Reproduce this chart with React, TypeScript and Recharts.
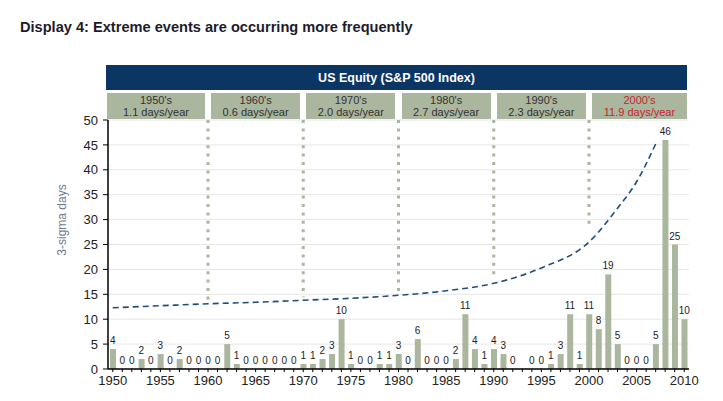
import {
  ComposedChart, Bar, Line, XAxis, YAxis, CartesianGrid,
  ReferenceLine, LabelList,
} from 'recharts';

const YEARS = [
  1950, 1951, 1952, 1953, 1954, 1955, 1956, 1957, 1958, 1959,
  1960, 1961, 1962, 1963, 1964, 1965, 1966, 1967, 1968, 1969,
  1970, 1971, 1972, 1973, 1974, 1975, 1976, 1977, 1978, 1979,
  1980, 1981, 1982, 1983, 1984, 1985, 1986, 1987, 1988, 1989,
  1990, 1991, 1992, 1993, 1994, 1995, 1996, 1997, 1998, 1999,
  2000, 2001, 2002, 2003, 2004, 2005, 2006, 2007, 2008, 2009,
  2010,
];

// number of 3-sigma days per year
const SIGMA_DAYS = [
  4, 0, 0, 2, 0, 3, 0, 2, 0, 0,
  0, 0, 5, 1, 0, 0, 0, 0, 0, 0,
  1, 1, 2, 3, 10, 1, 0, 0, 1, 1,
  3, 0, 6, 0, 0, 0, 2, 11, 4, 1,
  4, 3, 0, 0, 0, 0, 1, 3, 11, 1,
  11, 8, 19, 5, 0, 0, 0, 5, 46, 25,
  10,
];

// years whose value label is not printed in the original
const UNLABELLED = [1993];

// dashed trend curve
const TREND_YEARS = [1950, 1955, 1960, 1965, 1970, 1975, 1980, 1985, 1990, 1995, 2000, 2003, 2005, 2007];
const TREND_VALUES = [12.3, 12.7, 13.1, 13.4, 13.8, 14.2, 14.8, 15.7, 17.2, 20.3, 25.5, 32.3, 37.6, 45.2];

const DECADES = ["1950's", "1960's", "1970's", "1980's", "1990's", "2000's"];
const DECADE_RATES = ['1.1 days/year', '0.6 days/year', '2.0 days/year', '2.7 days/year', '2.3 days/year', '11.9 days/year'];
const DIVIDER_YEARS = [1960, 1970, 1980, 1990, 2000];
const DIVIDER_ENDS = [13.6, 14.4, 15.4, 18.3, 28.3];

const Y_TICKS = [0, 5, 10, 15, 20, 25, 30, 35, 40, 45, 50];

const W = 723;
const H = 401;
const PLOT_LEFT = 108;
const PLOT_RIGHT = 689;
const PLOT_TOP = 120;
const PLOT_BOTTOM = 369;
const Y_AXIS_W = 45;
const X_AXIS_H = 25;

const FONT = '"Liberation Sans", Arial, sans-serif';
const SAGE = '#abb69e';
const NAVY = '#0b3563';

const data = YEARS.map((year, i) => {
  const t = TREND_YEARS.indexOf(year);
  return {
    year,
    days: SIGMA_DAYS[i],
    label: UNLABELLED.includes(year) ? '' : String(SIGMA_DAYS[i]),
    trend: t >= 0 ? TREND_VALUES[t] : null,
  };
});

const band = (PLOT_RIGHT - PLOT_LEFT) / YEARS.length;
const yearX = (year: number) => PLOT_LEFT + band * (YEARS.indexOf(year) + 0.5);

function DecadeHeader() {
  const edges = [PLOT_LEFT, ...DIVIDER_YEARS.map(yearX), 687];
  return (
    <>
      <div style={{
        position: 'absolute', left: 106, top: 65, width: 687 - 106, height: 25,
        background: NAVY, color: '#fff', fontWeight: 700, fontSize: 12.5,
        display: 'flex', alignItems: 'center', justifyContent: 'center',
      }}>
        US Equity (S&amp;P 500 Index)
      </div>
      {DECADES.map((d, i) => {
        const left = i === 0 ? edges[i] - 1 : edges[i] + 3;
        const right = i === DECADES.length - 1 ? edges[i + 1] : edges[i + 1] - 3;
        const red = i === DECADES.length - 1;
        return (
          <div key={d} style={{
            position: 'absolute', left, top: 93, width: right - left, height: 26,
            background: SAGE, color: red ? '#c1272d' : '#333', fontSize: 11,
            lineHeight: '12px', textAlign: 'center',
            display: 'flex', flexDirection: 'column', justifyContent: 'center',
          }}>
            <div>{d}</div>
            <div>{DECADE_RATES[i]}</div>
          </div>
        );
      })}
    </>
  );
}

export default function App() {
  return (
    <div style={{ position: 'absolute', left: 0, top: 0, width: W, height: H, background: '#fff', fontFamily: FONT }}>
      <div style={{ position: 'absolute', left: 20, top: 19, fontSize: 14.6, fontWeight: 700, color: '#1c1c2c' }}>
        Display 4: Extreme events are occurring more frequently
      </div>
      <DecadeHeader />
      <div style={{ position: 'absolute', left: 0, top: 0 }}>
        <ComposedChart
          width={W}
          height={H}
          data={data}
          margin={{ top: PLOT_TOP, left: PLOT_LEFT - Y_AXIS_W, right: W - PLOT_RIGHT, bottom: H - PLOT_BOTTOM - X_AXIS_H }}
          style={{ fontFamily: FONT }}
        >
          <CartesianGrid vertical={false} stroke="#e6e6e6" />
          <XAxis
            dataKey="year"
            interval={0}
            height={X_AXIS_H}
            tickSize={3}
            tickMargin={4}
            axisLine={{ stroke: '#000', strokeWidth: 1.5 }}
            tickLine={{ stroke: '#000' }}
            tickFormatter={(v: number) => (v % 5 === 0 ? String(v) : '')}
            tick={{ fontSize: 13, fill: '#222' }}
          />
          <YAxis
            width={Y_AXIS_W}
            domain={[0, 50]}
            ticks={Y_TICKS}
            interval={0}
            tickSize={5}
            tickMargin={5}
            axisLine={{ stroke: '#000', strokeWidth: 1.5 }}
            tickLine={{ stroke: '#000' }}
            tick={{ fontSize: 13, fill: '#222' }}
            label={{
              content: () => (
                <text x={66} y={220} transform="rotate(-90 66 220)" textAnchor="middle"
                  fontSize={12} fill="#6d7b8f" fontFamily={FONT}>
                  3-sigma days
                </text>
              ),
            }}
          />
          {DIVIDER_YEARS.map((yr, i) => (
            <ReferenceLine
              key={yr}
              segment={[{ x: yr, y: 50 }, { x: yr, y: DIVIDER_ENDS[i] }]}
              stroke={SAGE}
              strokeWidth={3}
              strokeDasharray="3 5.4"
            />
          ))}
          <Bar dataKey="days" fill={SAGE} barSize={6} isAnimationActive={false} />
          {/* invisible series that carries the value labels, so zero years get one too */}
          <Line
            dataKey="days"
            stroke="none"
            dot={false}
            activeDot={false}
            isAnimationActive={false}
          >
            <LabelList dataKey="label" position="top" offset={5} fontSize={10} fill="#222" />
          </Line>
          <Line
            dataKey="trend"
            type="monotone"
            connectNulls
            stroke="#1f4e7a"
            strokeWidth={1.6}
            strokeDasharray="6 4"
            dot={false}
            activeDot={false}
            isAnimationActive={false}
          />
        </ComposedChart>
      </div>
    </div>
  );
}
